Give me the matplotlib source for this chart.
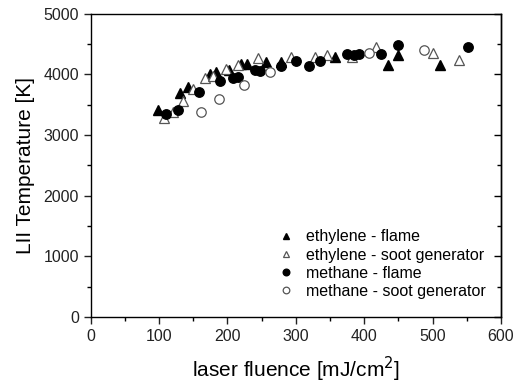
import matplotlib
matplotlib.use('Agg')
import matplotlib.pyplot as plt
from matplotlib.ticker import MultipleLocator

plt.rcParams['font.family'] = ['Liberation Sans', 'DejaVu Sans']

# ethylene - flame (filled triangles)
eth_flame_x = [98, 131, 143, 174, 184, 203, 220, 228, 257, 278, 358, 435, 450, 511]
eth_flame_y = [3420, 3700, 3800, 4000, 4035, 4080, 4170, 4180, 4200, 4200, 4280, 4160, 4320, 4160]

# ethylene - soot generator (open triangles)
eth_soot_x = [107, 121, 135, 150, 167, 179, 198, 216, 245, 293, 328, 345, 382, 418, 501, 538]
eth_soot_y = [3285, 3380, 3555, 3765, 3935, 3970, 4090, 4150, 4270, 4285, 4290, 4320, 4295, 4455, 4350, 4240]

# methane - flame (filled circles)
meth_flame_x = [110, 128, 159, 189, 208, 216, 240, 248, 279, 300, 320, 336, 375, 385, 392, 424, 450, 552]
meth_flame_y = [3340, 3420, 3710, 3890, 3945, 3960, 4080, 4065, 4135, 4225, 4145, 4230, 4345, 4323, 4340, 4345, 4490, 4460]

# methane - soot generator (open circles)
meth_soot_x = [161, 187, 224, 263, 407, 488]
meth_soot_y = [3377, 3590, 3820, 4036, 4360, 4410]

fig = plt.figure(figsize=(5.18, 3.85), dpi=100)
ax = fig.add_axes([0.175, 0.177, 0.792, 0.787])

ax.plot(eth_flame_x, eth_flame_y, '^', color='black', ms=7, ls='none',
        label='ethylene - flame')
ax.plot(eth_soot_x, eth_soot_y, '^', mfc='white', mec='#555555', mew=0.9, ms=7, ls='none',
        label='ethylene - soot generator')
ax.plot(meth_flame_x, meth_flame_y, 'o', color='black', ms=6.8, ls='none',
        label='methane - flame')
ax.plot(meth_soot_x, meth_soot_y, 'o', mfc='white', mec='#555555', mew=0.9, ms=6.8, ls='none',
        label='methane - soot generator')

ax.set_xlim(0, 600)
ax.set_ylim(0, 5000)
ax.xaxis.set_major_locator(MultipleLocator(100))
ax.xaxis.set_minor_locator(MultipleLocator(50))
ax.yaxis.set_major_locator(MultipleLocator(1000))
ax.yaxis.set_minor_locator(MultipleLocator(500))
ax.tick_params(which='major', direction='out', length=5, width=1, labelsize=11.5, colors='#222222')
ax.tick_params(which='minor', direction='out', length=3, width=1)

# inward ticks on the right spine
sec = ax.secondary_yaxis('right')
sec.yaxis.set_major_locator(MultipleLocator(1000))
sec.yaxis.set_minor_locator(MultipleLocator(500))
sec.tick_params(which='major', direction='in', length=5, width=1, labelright=False)
sec.tick_params(which='minor', direction='in', length=3, width=1)

for s in ax.spines.values():
    s.set_linewidth(1)
sec.spines['right'].set_linewidth(1)

ax.set_xlabel('laser fluence [mJ/cm$^2$]', fontsize=15, labelpad=8)
ax.set_ylabel('LII Temperature [K]', fontsize=15, labelpad=6)

ax.legend(loc='upper left', bbox_to_anchor=(0.44, 0.31), frameon=False, fontsize=11.5,
          markerscale=0.7, handlelength=1.0, handletextpad=0.8, labelspacing=0.2,
          borderaxespad=0)

fig.savefig('out.png', dpi=100)
